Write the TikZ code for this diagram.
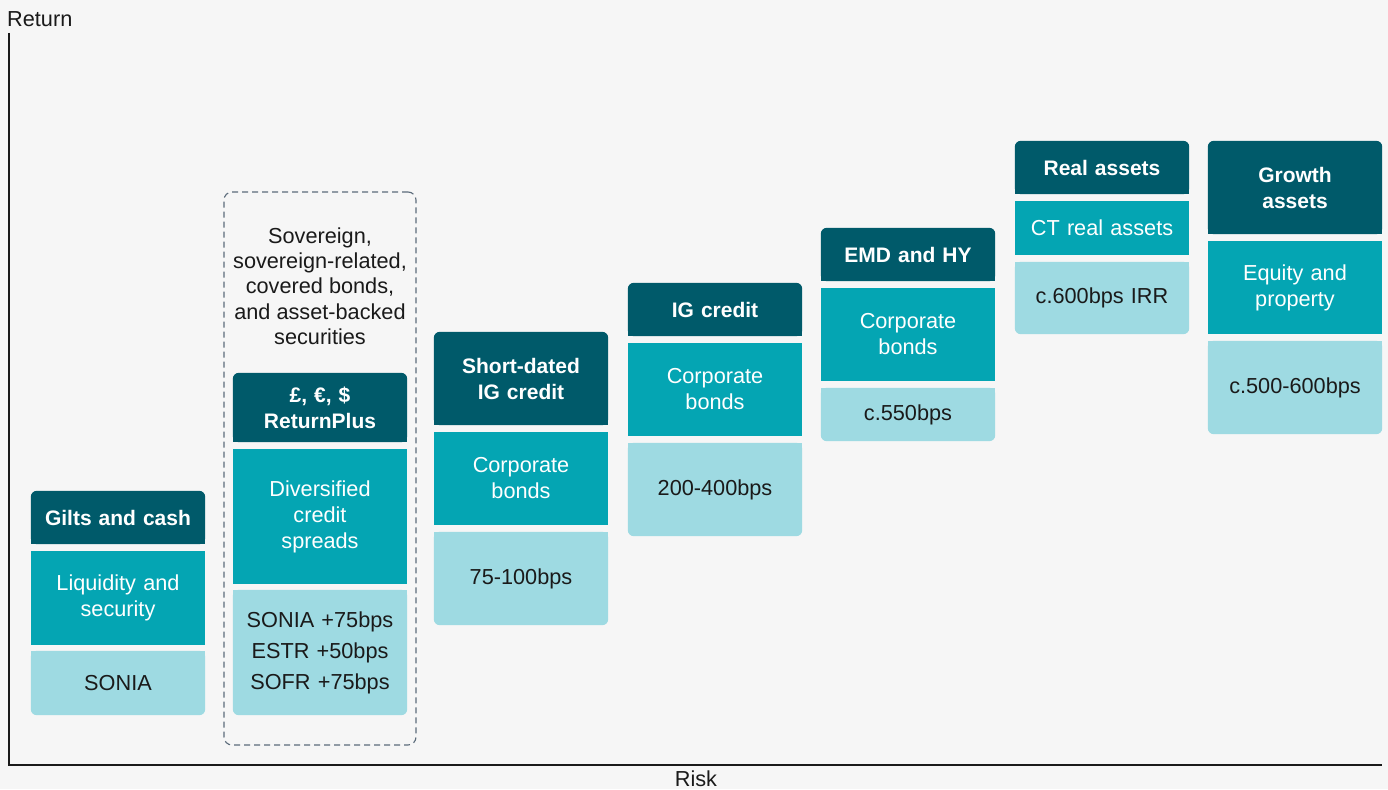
\documentclass[tikz,border=0pt]{standalone}
\usepackage{fontspec}
\setmainfont{Liberation Sans}
\usetikzlibrary{backgrounds}
\definecolor{bg}{HTML}{F6F6F6}
\definecolor{dk}{HTML}{005A6A}
\definecolor{md}{HTML}{04A5B3}
\definecolor{lt}{HTML}{9EDAE2}
\definecolor{ink}{HTML}{1A1A1A}
\definecolor{dashc}{HTML}{5B6B7A}
\newcommand\hdrfill[1]{\fill[dk,rounded corners=6pt] (#1.south west) rectangle (#1.north east); \fill[dk] (#1.south west) rectangle (#1.east);}
\newcommand\lowfill[1]{\fill[lt,rounded corners=6pt] (#1.south west) rectangle (#1.north east); \fill[lt] (#1.west) rectangle (#1.north east);}
\begin{document}
\begin{tikzpicture}[x=1pt,y=-1pt,
  sect/.style={minimum width=174pt, inner sep=0pt, align=center, text width=172pt, font=\fontsize{21.7}{26}\selectfont},
  hdr/.style={sect, text=white, font=\bfseries\fontsize{21}{26}\selectfont},
  mid/.style={sect, fill=md, text=white},
  low/.style={sect, text=ink},
  lbl/.style={inner sep=0pt, text=ink, font=\fontsize{21.7}{26}\selectfont}]
\begin{scope}[on background layer]
\fill[bg] (0,0) rectangle (1388,789);
\end{scope}
\useasboundingbox (0,0) rectangle (1388,789);

% axes
\coordinate (ytop) at (9,33);
\coordinate (org) at (9,765);
\coordinate (xend) at (1382,765);
\draw[ink, line width=1.3pt] (ytop) -- (org) -- (xend);
\node[lbl, anchor=west] (ylab) at (7,19) {Return};
\node[lbl, anchor=base] (xlab) at (696,786) {Risk};

% group box
\node[draw=dashc, line width=1.1pt, dash pattern=on 6pt off 4pt, rounded corners=8pt,
      minimum width=192pt, minimum height=553pt, inner sep=0pt] (grp) at (320,468.5) {};
\node[lbl, align=center, font=\fontsize{21.7}{25.3}\selectfont] (desc) at (320,286)
  {Sovereign,\\sovereign-related,\\covered bonds,\\and asset-backed\\securities};

% column 1
\node[hdr, minimum height=53pt] (h1) at (118,517.5) {Gilts and cash};
\node[mid, minimum height=94pt] (m1) at (118,598) {Liquidity and\\security};
\node[low, minimum height=64pt] (l1) at (118,683) {SONIA};
% column 2
\node[hdr, minimum height=69pt] (h2) at (320,407.5) {£, €, \$\\ReturnPlus};
\node[mid, minimum height=135pt] (m2) at (320,516.5) {Diversified\\credit\\spreads};
\node[low, minimum height=125pt, font=\fontsize{21.7}{31}\selectfont] (l2) at (320,652.5) {SONIA +75bps\\ESTR +50bps\\SOFR +75bps};
% column 3
\node[hdr, minimum height=93pt] (h3) at (521,378.5) {Short-dated\\IG credit};
\node[mid, minimum height=93pt] (m3) at (521,478.5) {Corporate\\bonds};
\node[low, minimum height=93pt] (l3) at (521,578.5) {75-100bps};
% column 4
\node[hdr, minimum height=53pt] (h4) at (715,309.5) {IG credit};
\node[mid, minimum height=93pt] (m4) at (715,389.5) {Corporate\\bonds};
\node[low, minimum height=93pt] (l4) at (715,489.5) {200-400bps};
% column 5
\node[hdr, minimum height=53pt] (h5) at (908,254.5) {EMD and HY};
\node[mid, minimum height=93pt] (m5) at (908,334.5) {Corporate\\bonds};
\node[low, minimum height=53pt] (l5) at (908,414.5) {c.550bps};
% column 6
\node[hdr, minimum height=53pt] (h6) at (1102,167.5) {Real assets};
\node[mid, minimum height=54pt] (m6) at (1102,228) {CT real assets};
\node[low, minimum height=72pt] (l6) at (1102,298) {c.600bps IRR};
% column 7
\node[hdr, minimum height=93pt] (h7) at (1295,187.5) {Growth\\assets};
\node[mid, minimum height=93pt] (m7) at (1295,287.5) {Equity and\\property};
\node[low, minimum height=93pt] (l7) at (1295,387.5) {c.500-600bps};

\begin{scope}[on background layer]
\hdrfill{h1}\hdrfill{h2}\hdrfill{h3}\hdrfill{h4}\hdrfill{h5}\hdrfill{h6}\hdrfill{h7}
\lowfill{l1}\lowfill{l2}\lowfill{l3}\lowfill{l4}\lowfill{l5}\lowfill{l6}\lowfill{l7}
\end{scope}
\end{tikzpicture}
\end{document}
